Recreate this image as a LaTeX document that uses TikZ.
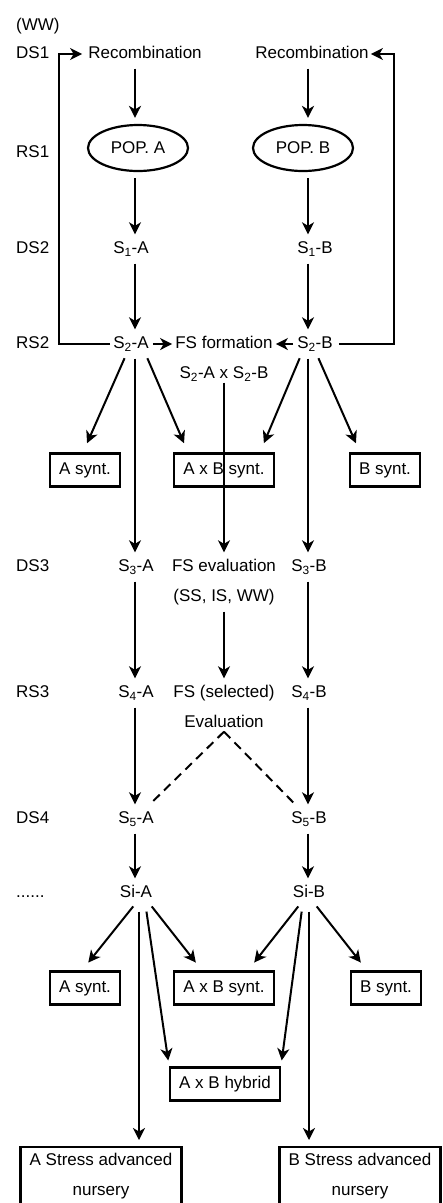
\documentclass[tikz,border=0pt]{standalone}
\usepackage{fontspec}
\setmainfont{Liberation Sans}
\usetikzlibrary{arrows.meta,shapes.geometric}

\tikzset{
  flow/.style={line width=2pt,-{Stealth[length=12pt,width=12pt,inset=3.5pt]},shorten <=6pt,shorten >=6pt},
  fan/.style={flow,shorten >=10pt},
  stage/.style={inner sep=1pt,text height=12pt,text depth=3pt},
  rowlbl/.style={stage,anchor=west},
  synbox/.style={draw,line width=2.2pt,inner xsep=9pt,text height=12pt,text depth=3pt,minimum height=33pt},
  pop/.style={draw,ellipse,line width=2.2pt,minimum width=100pt,minimum height=46pt,inner sep=0pt},
  nursery/.style={draw,line width=2.2pt,align=center,anchor=north,minimum width=161pt,inner ysep=6pt},
}

\begin{document}
\begin{tikzpicture}[x=1pt,y=-1pt,font=\fontsize{17}{30}\selectfont]
   \useasboundingbox (0,0) rectangle (443,1203);

   \node[rowlbl] (ww) at (15,26) {(WW)};
   \node[rowlbl] (ds1) at (15,54) {DS1};
   \node[rowlbl] (rs1) at (15,153) {RS1};
   \node[rowlbl] (ds2) at (15,249) {DS2};
   \node[rowlbl] (rs2) at (15,344) {RS2};
   \node[rowlbl] (ds3) at (15,567) {DS3};
   \node[rowlbl] (rs3) at (15,693) {RS3};
   \node[rowlbl] (ds4) at (15,819) {DS4};
   \node[rowlbl] (dots) at (15,893) {......};

   \coordinate (colA) at (135,0);
   \coordinate (colB) at (308,0);
   \coordinate (loopL) at (59,54);
   \coordinate (loopR) at (394,54);

   \node[stage] (recA) at (145,54) {Recombination};
   \node[stage] (recB) at (312,54) {Recombination};
   \node[pop] (popA) at (138,148) {POP. A};
   \node[pop] (popB) at (303,148) {POP. B};
   \node[stage] (s1a) at (131,249) {S\textsubscript{1}-A};
   \node[stage] (s1b) at (315,249) {S\textsubscript{1}-B};
   \node[stage] (s2a) at (131,344) {S\textsubscript{2}-A};
   \node[stage] (s2b) at (315,344) {S\textsubscript{2}-B};
   \node[stage] (fsf) at (224,344) {FS formation};
   \node[stage] (fsx) at (224,374) {S\textsubscript{2}-A x S\textsubscript{2}-B};
   \node[synbox] (synA) at (85,470) {A synt.};
   \node[synbox] (synAB) at (224,470) {A x B synt.};
   \node[synbox] (synB) at (385,470) {B synt.};
   \node[stage] (s3a) at (136,567) {S\textsubscript{3}-A};
   \node[stage] (fse) at (224,567) {FS evaluation};
   \node[stage] (s3b) at (309,567) {S\textsubscript{3}-B};
   \node[stage] (fsw) at (224,597) {(SS, IS, WW)};
   \node[stage] (s4a) at (136,693) {S\textsubscript{4}-A};
   \node[stage] (fss) at (224,693) {FS (selected)};
   \node[stage] (s4b) at (309,693) {S\textsubscript{4}-B};
   \node[stage] (ev) at (224,723) {Evaluation};
   \node[stage] (s5a) at (136,819) {S\textsubscript{5}-A};
   \node[stage] (s5b) at (309,819) {S\textsubscript{5}-B};
   \node[stage] (sia) at (136,893) {Si-A};
   \node[stage] (sib) at (309,893) {Si-B};
   \node[synbox] (synA2) at (85,988) {A synt.};
   \node[synbox] (synAB2) at (224,988) {A x B synt.};
   \node[synbox] (synB2) at (386,988) {B synt.};
   \node[synbox] (hyb) at (225,1084) {A x B hybrid};
   \node[nursery] (nurA) at (101,1146) {A Stress advanced\\nursery\\~};
   \node[nursery] (nurB) at (360,1146) {B Stress advanced\\nursery\\~};

   \draw[flow] (recA.south -| colA) -- (popA.north -| colA);
   \draw[flow] (recB.south -| colB) -- (popB.north -| colB);
   \draw[flow] (popA.south -| colA) -- (s1a.north -| colA);
   \draw[flow] (popB.south -| colB) -- (s1b.north -| colB);
   \draw[flow] (s1a.south -| colA) -- (s2a.north -| colA);
   \draw[flow] (s1b.south -| colB) -- (s2b.north -| colB);

   \draw[flow,shorten <=2pt,shorten >=5pt] (s2a.west) -| (loopL) -- (recA.west);
   \draw[flow,shorten <=5pt,shorten >=1pt] (s2b.east) -| (loopR) -- (recB.east);
   \draw[flow,shorten <=3pt,shorten >=2pt] (s2a) -- (fsf);
   \draw[flow,shorten <=3pt,shorten >=2pt] (s2b) -- (fsf);

   \draw[fan] ([xshift=-4pt]s2a.south) -- ([xshift=-2pt]synA.north);
   \draw[flow] (s2a.south -| colA) -- (s3a.north -| colA);
   \draw[fan] ([xshift=14pt]s2a.south) -- ([xshift=-36pt]synAB.north);
   \draw[fan] ([xshift=-13pt]s2b.south) -- ([xshift=36pt]synAB.north);
   \draw[flow] (s2b.south -| colB) -- (s3b.north -| colB);
   \draw[fan] ([xshift=1pt]s2b.south) -- ([xshift=-25pt]synB.north);
   \draw[flow,shorten <=0pt] (fsx) -- (fse);

   \draw[flow] (s3a.south -| colA) -- (s4a.north -| colA);
   \draw[flow] (fsw) -- (fss);
   \draw[flow] (s3b.south -| colB) -- (s4b.north -| colB);
   \draw[flow] (s4a.south -| colA) -- (s5a.north -| colA);
   \draw[flow] (s4b.south -| colB) -- (s5b.north -| colB);
   \draw[line width=2pt,dash pattern=on 9pt off 6pt] (ev.south) -- ([xshift=-2pt,yshift=9pt]s5a.north east);
   \draw[line width=2pt,dash pattern=on 9pt off 6pt] (ev.south) -- ([xshift=5pt,yshift=6pt]s5b.north west);
   \draw[flow] (s5a.south -| colA) -- (sia.north -| colA);
   \draw[flow] (s5b.south -| colB) -- (sib.north -| colB);

   \coordinate (siaDrop) at ([xshift=3pt]sia.south);
   \draw[fan] ([xshift=1pt]sia.south) -- ([xshift=-3pt]synA2.north);
   \draw[fan] ([xshift=12pt]sia.south) -- ([xshift=-22pt]synAB2.north);
   \draw[flow,shorten <=10pt] (siaDrop) -- (siaDrop |- nurA.north);
   \draw[flow,shorten <=10pt] ([xshift=9pt]sia.south) -- (hyb.north west);
   \draw[fan] ([xshift=-7pt]sib.south) -- ([xshift=24pt]synAB2.north);
   \draw[fan] ([xshift=4pt]sib.south) -- ([xshift=-19pt]synB2.north);
   \draw[flow,shorten <=10pt] (sib.south) -- (sib.south |- nurB.north);
   \draw[flow,shorten <=10pt] ([xshift=-6pt]sib.south) -- (hyb.north east);
\end{tikzpicture}
\end{document}
